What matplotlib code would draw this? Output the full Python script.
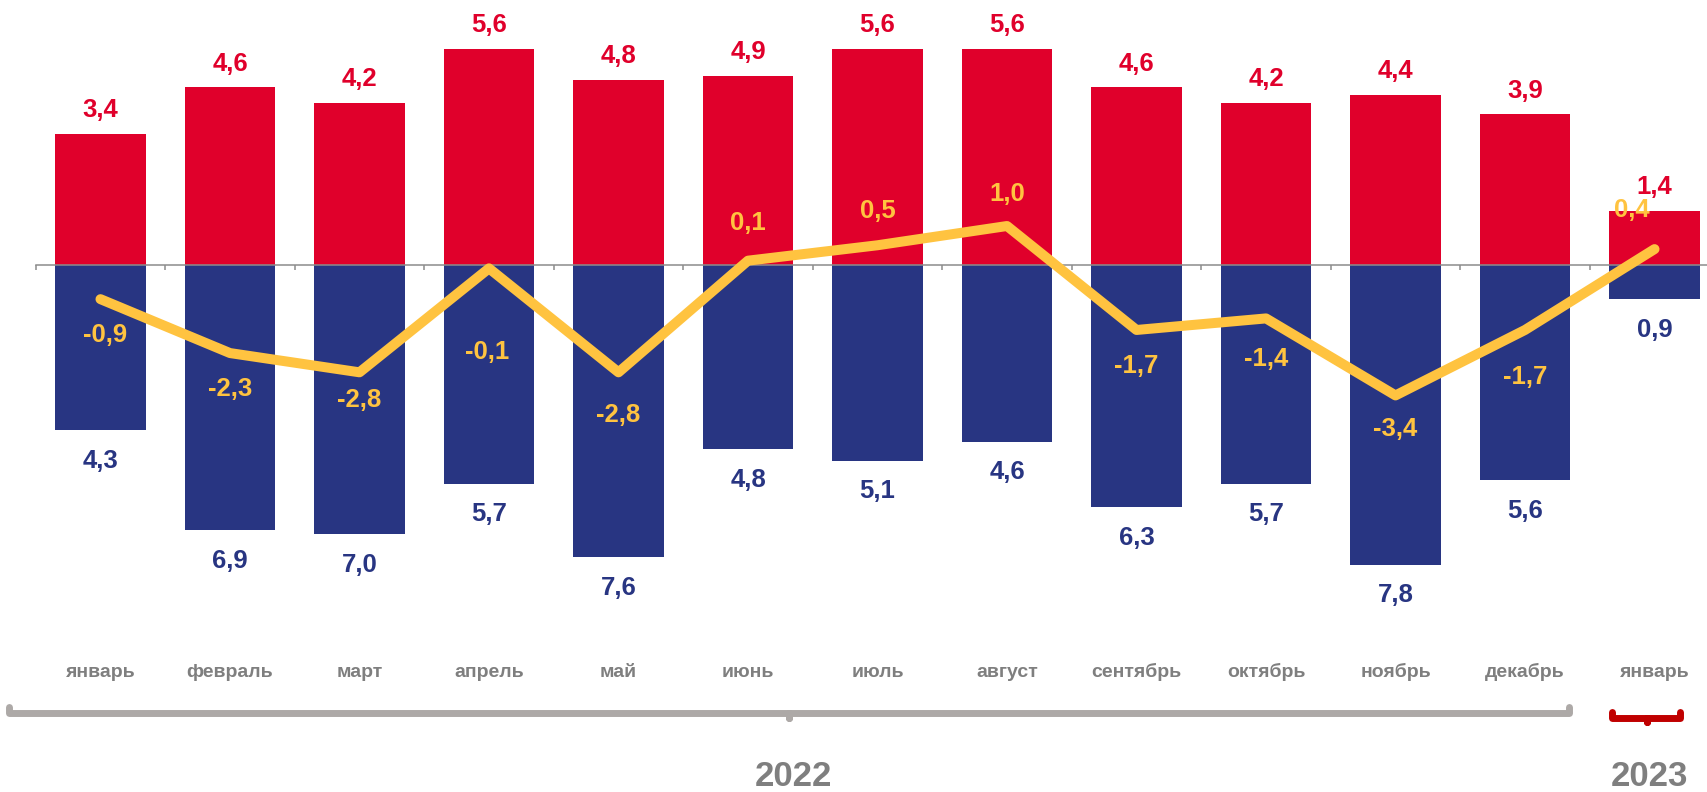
import numpy as np
import matplotlib.pyplot as plt

# Data
months = ['январь', 'февраль', 'март', 'апрель', 'май', 'июнь', 'июль',
          'август', 'сентябрь', 'октябрь', 'ноябрь', 'декабрь', 'январь']
red_vals = [3.4, 4.6, 4.2, 5.6, 4.8, 4.9, 5.6, 5.6, 4.6, 4.2, 4.4, 3.9, 1.4]
blue_vals = [4.3, 6.9, 7.0, 5.7, 7.6, 4.8, 5.1, 4.6, 6.3, 5.7, 7.8, 5.6, 0.9]
line_vals = [-0.9, -2.3, -2.8, -0.1, -2.8, 0.1, 0.5, 1.0, -1.7, -1.4, -3.4, -1.7, 0.4]
years = ['2022', '2023']

# label offsets for the yellow line (points, + is below the point)
line_lbl_dy = [26, 26, 20, 60, 31, -27, -25, -23, 26, 29, 24, 34, -28]
line_lbl_dx = [3, 0, 0, -1, 0, 0, 0, 0, 0, 0, 0, 0, -16]

RED = '#E0002B'
BLUE = '#283582'
YELLOW = '#FFC340'
GRAY = '#7F7F7F'
NARROW = ['Liberation Sans Narrow', 'Liberation Sans', 'DejaVu Sans']
BOLD = ['Liberation Sans', 'DejaVu Sans']


def fmt(v):
    return f'{v:.1f}'.replace('.', ',')


x = np.arange(len(months))

fig = plt.figure(figsize=(17.08, 7.92), dpi=100)
ax = fig.add_axes([0, 0, 1, 1])
ax.set_xlim(-0.776, 12.413)
ax.set_ylim(-13.70, 6.87)
ax.axis('off')

ax.bar(x, red_vals, width=0.70, color=RED, zorder=2)
ax.bar(x, [-v for v in blue_vals], width=0.70, color=BLUE, zorder=2)

# zero axis with category ticks
ax.plot([-0.5, 12.6], [0, 0], color='#8C8C8C', lw=1.1, zorder=3)
bounds = np.arange(-0.5, 12.6, 1.0)
ax.vlines(bounds, -0.13, 0, color='#8C8C8C', lw=1.1, zorder=3)

ax.plot(x, line_vals, color=YELLOW, lw=7.2, solid_capstyle='round',
        solid_joinstyle='round', zorder=4)

for i in range(len(months)):
    ax.annotate(fmt(red_vals[i]), (x[i], red_vals[i]), xytext=(0, 12),
                textcoords='offset points', ha='center', va='baseline',
                fontsize=18.5, fontweight='bold', color=RED, family=BOLD)
    ax.annotate(fmt(blue_vals[i]), (x[i], -blue_vals[i]), xytext=(0, -27),
                textcoords='offset points', ha='center', va='baseline',
                fontsize=18.5, fontweight='bold', color=BLUE, family=BOLD)
    ax.annotate(fmt(line_vals[i]), (x[i], line_vals[i]),
                xytext=(line_lbl_dx[i], -line_lbl_dy[i]),
                textcoords='offset points', ha='center', va='center',
                fontsize=18.5, fontweight='bold', color=YELLOW, family=BOLD,
                zorder=5)

tr = ax.get_xaxis_transform()
for i, m in enumerate(months):
    ax.text(x[i], 0.1515, m, transform=tr, ha='center', va='center',
            fontsize=14, fontweight='bold', color=GRAY, family=NARROW)

# year brackets
yb = 0.0997
ax.plot([-0.71, -0.71, 5.32, 5.32, 5.32, 11.34, 11.34],
        [yb + 0.007, yb, yb, yb - 0.006, yb, yb, yb + 0.007],
        transform=tr, color='#ADA9A7', lw=5, solid_capstyle='round',
        solid_joinstyle='round', clip_on=False)
yr = 0.094
ax.plot([11.67, 11.67, 11.94, 11.94, 11.94, 12.2, 12.2],
        [yr + 0.007, yr, yr, yr - 0.006, yr, yr, yr + 0.007],
        transform=tr, color='#C00000', lw=5, solid_capstyle='round',
        solid_joinstyle='round', clip_on=False)

ax.text(5.35, 0.007, years[0], transform=tr, ha='center', va='baseline',
        fontsize=25, fontweight='bold', color=GRAY, family=NARROW)
ax.text(11.96, 0.007, years[1], transform=tr, ha='center', va='baseline',
        fontsize=25, fontweight='bold', color=GRAY, family=NARROW)

fig.savefig('out.png', dpi=100)
